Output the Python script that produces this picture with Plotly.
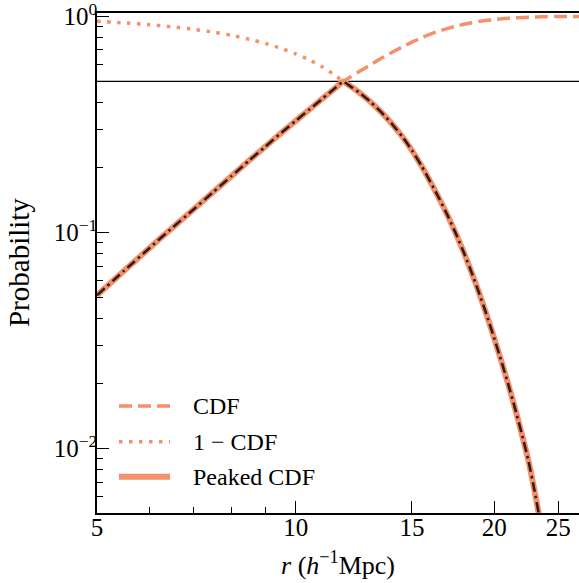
import numpy as np
import plotly.graph_objects as go

# radius (h^-1 Mpc), lower branch (up to the crossing point)
r_low = [5.0, 5.5, 6.0, 6.5, 7.0, 7.5, 8.0, 8.5, 9.0, 9.5, 10.0, 10.5, 11.0, 11.5, 11.8]
cdf_low = [0.0513, 0.0667, 0.0846, 0.1051, 0.1279, 0.1539, 0.1829, 0.2154, 0.2501,
           0.2884, 0.3286, 0.3718, 0.4185, 0.4683, 0.5]
# radius (h^-1 Mpc), upper branch
r_high = [12.0, 12.5, 13.0, 13.5, 14.0, 14.5, 15.0, 15.5, 16.0, 16.5, 17.0, 17.5, 18.0,
          18.5, 19.0, 19.5, 20.0, 20.5, 21.0, 21.5, 22.0, 22.5, 23.0, 23.5, 24.0, 25.0,
          26.0, 27.0]
tail_high = [0.4838, 0.4431, 0.4009, 0.3585, 0.3176, 0.2783, 0.2402, 0.2042, 0.1715,
             0.1436, 0.1194, 0.09834, 0.08017, 0.06461, 0.05161, 0.04099, 0.03227,
             0.02532, 0.01978, 0.01532, 0.01176, 0.008924, 0.006435, 0.004478,
             0.003053, 0.001341, 0.000556, 0.000224]
half_level = 0.5

x_ticks = [5, 10, 15, 20, 25]
x_minor = [6, 7, 8, 9]
y_ticks = [0.01, 0.1, 1.0]
y_ticktext = ["10<sup>\u22122</sup>", "10<sup>\u22121</sup>", "10<sup>0</sup>"]
y_minor = [m * d for d in (0.001, 0.01, 0.1) for m in range(2, 10)]

r = np.array(r_low + r_high)
cdf = np.concatenate([np.array(cdf_low), 1.0 - np.array(tail_high)])
one_minus = 1.0 - cdf
peaked = np.minimum(cdf, one_minus)

salmon = "#F4906C"
FONT = "Liberation Serif"
SPL = dict(shape="spline", smoothing=0.5)

fig = go.Figure()
fig.add_trace(go.Scatter(x=[4, 30], y=[half_level, half_level], mode="lines",
                         line=dict(color="black", width=1.2), showlegend=False,
                         hoverinfo="skip"))
fig.add_trace(go.Scatter(x=r, y=cdf, mode="lines", name="CDF",
                         line=dict(color=salmon, width=3.5, dash="13px,6px", **SPL),
                         showlegend=False))
fig.add_trace(go.Scatter(x=r, y=one_minus, mode="lines", name="1 \u2212 CDF",
                         line=dict(color=salmon, width=3.5, dash="3.5px,6.5px", **SPL),
                         showlegend=False))
fig.add_trace(go.Scatter(x=r, y=peaked, mode="lines", name="Peaked CDF",
                         line=dict(color=salmon, width=6, **SPL),
                         showlegend=False))
fig.add_trace(go.Scatter(x=r, y=peaked, mode="lines",
                         line=dict(color="rgba(0,0,0,0.8)", width=2.6,
                                   dash="10px,4px,2.5px,4px", **SPL),
                         showlegend=False))

# legend drawn to match the reference layout
legend_items = [("CDF", "13px,6px", 3.5, 0.214),
                ("1 \u2212 CDF", "3.5px,6.5px", 3.5, 0.1426),
                ("Peaked CDF", "solid", 6, 0.0726)]
for label, dash, w, yp in legend_items:
    fig.add_shape(type="line", xref="paper", yref="paper", x0=0.0456, x1=0.1515,
                  y0=yp, y1=yp, line=dict(color=salmon, width=w, dash=dash))
    fig.add_annotation(xref="paper", yref="paper", x=0.195, y=yp, text=label,
                       showarrow=False, xanchor="left", yanchor="middle",
                       font=dict(family=FONT, size=24, color="black"))

# axis titles
fig.add_annotation(xref="paper", yref="paper", x=0.5, y=-0.100,
                   text="<i>r</i> (<i>h</i><sup>\u22121</sup>Mpc)", showarrow=False,
                   xanchor="center", yanchor="middle",
                   font=dict(family=FONT, size=26, color="black"))
fig.add_annotation(xref="paper", yref="paper", x=-0.1618, y=0.5,
                   text="Probability", showarrow=False, textangle=-90,
                   xanchor="center", yanchor="middle",
                   font=dict(family=FONT, size=29, color="black"))

fig.update_layout(
    width=579, height=583,
    margin=dict(l=97, r=0, t=13, b=70),
    paper_bgcolor="white", plot_bgcolor="white",
    font=dict(family=FONT, color="black"),
    showlegend=False,
)
fig.update_xaxes(
    type="log", range=[np.log10(5), np.log10(26.87)], automargin=False,
    tickvals=x_ticks, ticktext=[str(v) for v in x_ticks],
    ticks="inside", ticklen=12, tickwidth=1, tickcolor="black",
    minor=dict(tickvals=x_minor, ticks="inside", ticklen=6, tickwidth=1, tickcolor="black"),
    showline=True, linecolor="black", linewidth=1.5, mirror=True,
    showgrid=False, zeroline=False, ticklabeloverflow="allow",
    tickfont=dict(family=FONT, size=25), ticklabelstandoff=-9,
)
fig.update_yaxes(
    type="log", range=[np.log10(0.00504), 0.01576], automargin=False,
    tickvals=y_ticks, ticktext=y_ticktext,
    ticks="inside", ticklen=12, tickwidth=1, tickcolor="black",
    minor=dict(tickvals=y_minor, ticks="inside", ticklen=6, tickwidth=1, tickcolor="black"),
    showline=True, linecolor="black", linewidth=1.5, mirror=False,
    showgrid=False, zeroline=False, ticklabeloverflow="allow",
    tickfont=dict(family=FONT, size=25), ticklabelstandoff=-7,
)

fig.write_html("out.html", config={"displayModeBar": False},
               post_script="document.body.style.margin='0';")
